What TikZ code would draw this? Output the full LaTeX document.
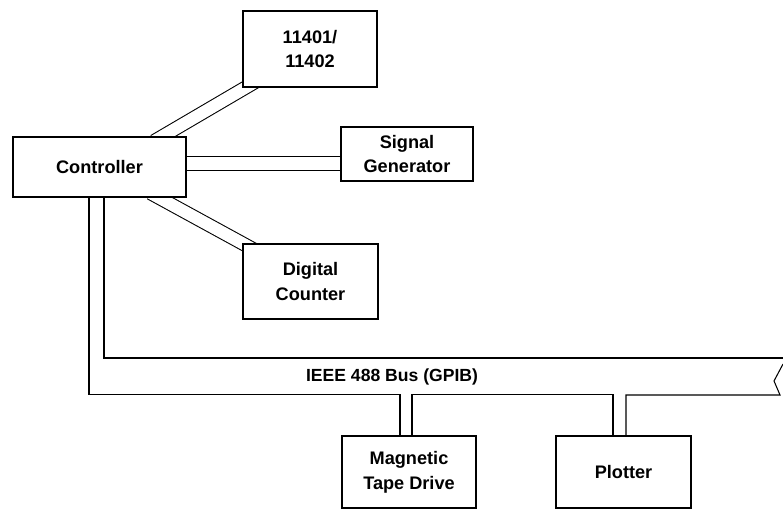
\documentclass[tikz,border=0pt]{standalone}
\usepackage{fontspec}
\setmainfont{Liberation Sans}
\usetikzlibrary{calc,backgrounds}

\tikzset{
  device/.style={rectangle, draw, line width=1.4pt, fill=white, align=center, font=\fontsize{15.5}{21}\selectfont\bfseries},
  link/.style={double, double distance=0.36cm, line width=0.9pt},
  busline/.style={line width=0.9pt},
}

\begin{document}
\begin{tikzpicture}[x=0.03cm, y=-0.03cm]
  \useasboundingbox (0,0) rectangle (783,510);

  \node[device, minimum width=5.19cm, minimum height=1.8cm]  (ctrl) at (99.5,167)  {Controller};
  \node[device, minimum width=4.02cm, minimum height=2.28cm] (osc)  at (310,49)    {11401/\\11402};
  \node[device, minimum width=3.96cm, minimum height=1.62cm] (sig)  at (407,154)   {Signal\\Generator};
  \node[device, minimum width=4.05cm, minimum height=2.25cm] (cnt)  at (310.5,281.5) {Digital\\Counter};
  \node[device, minimum width=4.02cm, minimum height=2.16cm] (tape) at (409,472)   {Magnetic\\Tape Drive};
  \node[device, minimum width=4.05cm, minimum height=2.16cm] (plot) at (623.5,472) {Plotter};

  \node[font=\fontsize{15}{18}\selectfont\bfseries] (buslabel) at (392,377) {IEEE 488 Bus (GPIB)};

  \coordinate (bustop)  at (783,358);
  \coordinate (buslow)  at (780,395);
  \coordinate (busmid)  at (774,381);
  \coordinate (busedge) at (783,364);

  \begin{scope}[on background layer]
    \draw[link, shorten <=-0.3cm, shorten >=-0.4cm] ($(ctrl.north west)+(150.5,0)$) -- ($(osc.south west)+(3,0)$);
    \draw[link, shorten <=-0.3cm, shorten >=-0.3cm] ($(ctrl.east)+(0,-3.5)$) -- ($(sig.west)+(0,9.5)$);
    \draw[link, shorten <=-0.3cm, shorten >=-0.4cm] ($(ctrl.south west)+(147,0)$) -- (cnt.north west);

    \draw[busline] ($(ctrl.south)+(4.5,0)$) |- (bustop);
    \draw[busline] ($(ctrl.south)+(-10.5,0)$) |- ($(tape.north)+(-9,-41)$) -- ($(tape.north)+(-9,0)$);
    \draw[busline] ($(tape.north)+(3,0)$) |- ($(plot.north)+(-10.5,-41)$) -- ($(plot.north)+(-10.5,0)$);
    \draw[busline] ($(plot.north)+(2.5,0)$) |- (buslow) -- (busmid) -- (busedge);
  \end{scope}
\end{tikzpicture}
\end{document}
